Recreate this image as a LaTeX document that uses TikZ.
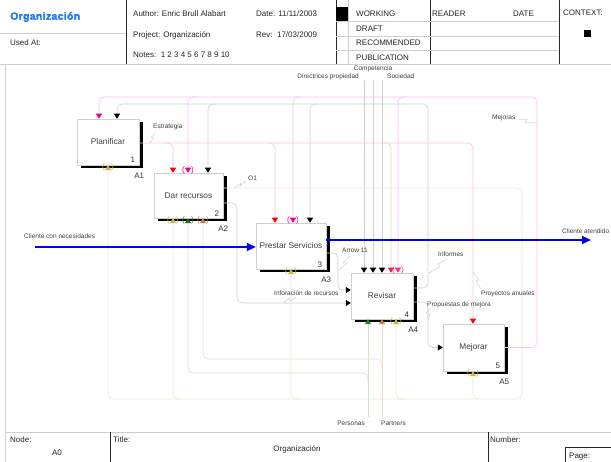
\documentclass[tikz,border=0pt]{standalone}
\usepackage{fontspec}
\setmainfont{Liberation Sans}
\newfontfamily\heavyfont[FakeBold=2,LetterSpace=3]{Liberation Sans Bold}
\usetikzlibrary{arrows.meta,shadows,calc}
\definecolor{lgray}{HTML}{D0D0D0}
\definecolor{lpink}{HTML}{F7C2F7}
\definecolor{lred}{HTML}{F7CACA}
\definecolor{lolive}{HTML}{ECEBD2}
\definecolor{lgreen}{HTML}{CDE6CD}
\definecolor{lbrown}{HTML}{F2DCC8}
\definecolor{olv}{HTML}{C8BE3C}
\definecolor{grn}{HTML}{1E8C1E}
\definecolor{brn}{HTML}{C88040}
\definecolor{orgblue}{HTML}{1E78F0}
\definecolor{dpink}{HTML}{FF2E8C}
\definecolor{dred}{HTML}{FF1E46}
\begin{document}
\begin{tikzpicture}[x=1pt,y=-1pt,
 box/.style={draw=lgray,line width=0.5pt,fill=white,inner sep=1pt,
   font=\fontsize{8.3}{10}\selectfont,text=black!75,
   drop shadow={shadow xshift=3.5pt,shadow yshift=-3.5pt,opacity=1,fill=black}},
 num/.style={font=\fontsize{8}{9}\selectfont,text=black!80,inner sep=0pt},
 lbl/.style={font=\fontsize{6.5}{7.5}\selectfont,text=black!75,inner sep=0pt},
 hdr/.style={font=\fontsize{8}{9.6}\selectfont,text=black!85,inner sep=0pt,anchor=west},
 L/.style={line width=0.6pt,rounded corners=5pt,draw=#1},
 tp/.style={-{Triangle[width=6pt,length=5pt,color=#1]}},
 tun/.style={font=\fontsize{8}{9}\selectfont,text=#1,inner sep=0pt},
 sq/.style={draw=lgray,line width=0.5pt},
 frm/.style={draw=black!85,line width=0.7pt},
 fgray/.style={draw=lgray,line width=0.6pt},
]
\fill[white] (0,0) rectangle (611,462);
\useasboundingbox (0,0) rectangle (611,462);

% ---------- header ----------
\draw[fgray] (0,64) -- (611,64);
\draw[fgray] (5,64) -- (5,462);
\draw[fgray] (0,33) -- (126,33);
\draw[frm] (126,0) -- (126,64);
\draw[frm] (336,0) -- (336,64);
\draw[fgray] (348,0) -- (348,64);
\draw[frm] (430,0) -- (430,64);
\draw[frm] (559,0) -- (559,64);
\draw[fgray] (336,21) -- (559,21);
\draw[fgray] (336,36) -- (559,36);
\draw[fgray] (336,50) -- (559,50);
\fill[black] (336,7) rectangle (348,21);
\fill[black] (584,30) rectangle (591,37);
\node[hdr,font=\fontsize{10.5}{12}\heavyfont,text=orgblue] (hOrg) at (10,17) {Organización};
\node[hdr] (hUsed) at (10,43) {Used At:};
\node[hdr] (hAuth) at (133,14) {Author: Enric Brull Alabart};
\node[hdr] (hDate) at (256,14) {Date: 11/11/2003};
\node[hdr] (hProj) at (133,35) {Project: Organización};
\node[hdr] (hRev) at (256,35) {Rev:\ \ 17/03/2009};
\node[hdr] (hNotes) at (133,55) {Notes:\ \ 1 2 3 4 5 6 7 8 9 10};
\node[hdr] (hW) at (356,14) {WORKING};
\node[hdr] (hD) at (356,29) {DRAFT};
\node[hdr] (hR) at (356,43) {RECOMMENDED};
\node[hdr] (hP) at (356,58) {PUBLICATION};
\node[hdr] (hRd) at (432,14) {READER};
\node[hdr] (hDt) at (513,14) {DATE};
\node[hdr] (hC) at (563,13) {CONTEXT:};

% ---------- footer ----------
\draw[fgray] (5,432) -- (611,432);
\draw[frm] (110,432) -- (110,462);
\draw[frm] (488,432) -- (488,462);
\draw[frm] (565,462) -- (565,447) -- (611,447);
\node[hdr] (fNode) at (10,440) {Node:};
\node[hdr,anchor=center] (fA0) at (57,453) {A0};
\node[hdr] (fTitle) at (113,440) {Title:};
\node[hdr,anchor=center] (fOrg) at (297,449) {Organización};
\node[hdr] (fNum) at (490,440) {Number:};
\node[hdr] (fPage) at (569,457) {Page:};

% ---------- activity boxes ----------
\node[box,minimum width=62pt,minimum height=46pt] (A1) at (108,142) {Planificar};
\node[box,minimum width=69pt,minimum height=45pt] (A2) at (188.5,195.5) {Dar recursos};
\node[box,minimum width=70pt,minimum height=46pt] (A3) at (291,246) {Prestar Servicios};
\node[box,minimum width=62pt,minimum height=46pt] (A4) at (382,296) {Revisar};
\node[box,minimum width=61pt,minimum height=47pt] (A5) at (473.5,347.5) {Mejorar};
\foreach \b/\n in {A1/1,A2/2,A3/3,A4/4,A5/5}{
  \node[num] (n\n) at ($(\b.south east)+(-6.5,-5)$) {\n};
  \node[num] (l\n) at ($(\b.south east)+(0,10.5)$) {\b};
}

% ---------- Mejoras (A5 -> controls) ----------
\draw[L=lpink,tp=magenta] (A5.east) -- (537,347.5) -- (537,97) -- (99,97) -- (99,0 |- A1.north);
\draw[L=lpink,tp=magenta] (196,97) -- (188,97) -- (188,0 |- A2.north);
\draw[L=lpink,tp=magenta] (301,97) -- (293,97) -- (293,0 |- A3.north);
\draw[L=lpink,tp=dpink] (406,97) -- (398,97) -- (398,0 |- A4.north);

% ---------- Informes (A4 -> controls) ----------
\draw[L=lgray,tp=black] (A4.east |- 0,288) -- (428,288) -- (428,104) -- (117,104) -- (117,0 |- A1.north);
\draw[L=lgray,tp=black] (216,104) -- (208,104) -- (208,0 |- A2.north);
\draw[L=lgray,tp=black] (318,104) -- (310,104) -- (310,0 |- A3.north);

% ---------- Estrategia (A1 -> controls) ----------
\draw[L=lred,tp=red] (A1.east |- 0,143) -- (473,143) -- (473,0 |- A5.north);
\draw[L=lred,tp=red] (165,143) -- (173,143) -- (173,0 |- A2.north);
\draw[L=lred,tp=red] (267,143) -- (275,143) -- (275,0 |- A3.north);
\draw[L=lred,tp=dred] (383,143) -- (391,143) -- (391,0 |- A4.north);

% ---------- external controls ----------
\coordinate (cDir) at (364,80);
\coordinate (cCom) at (373,80);
\coordinate (cSoc) at (382,80);
\draw[L=lgray,tp=black] (cDir) -- (cDir |- A4.north);
\draw[L=lgray,tp=black] (cCom) -- (cCom |- A4.north);
\draw[L=lgray,tp=black] (cSoc) -- (cSoc |- A4.north);

% ---------- A3 -> A4, A2 -> A4, A4 -> A5 ----------
\draw[L=lgray,tp=black] (A3.east |- 0,253) -- (338,253) -- (338,290) -- (A4.west |- 0,290);
\draw[L=lgray,tp=black] (A2.east |- 0,203) -- (237,203) -- (237,303) -- (A4.west |- 0,303);
\draw[L=lgray,tp=black] (A4.east |- 0,302) -- (428,302) -- (428,347.5) -- (A5.west);

% ---------- O1 (A2 -> mechanisms) ----------
\draw[L=lolive,tp=olv] (A2.east |- 0,188) -- (522,188) -- (522,399) -- (108,399) -- (108,0 |- A1.south);
\draw[L=lolive,tp=olv] (181,399) -- (173,399) -- (173,0 |- A2.south);
\draw[L=lolive,tp=olv] (299,399) -- (291,399) -- (291,0 |- A3.south);
\draw[L=lolive,tp=olv] (404,399) -- (396,399) -- (396,0 |- A4.south);
\draw[L=lolive,tp=olv] (481,399) -- (473,399) -- (473,0 |- A5.south);

% ---------- Personas / Partners ----------
\coordinate (cPer) at (368,417);
\coordinate (cPar) at (382,417);
\draw[L=lgreen,tp=grn] (cPer) -- (cPer |- A4.south);
\draw[L=lgreen,tp=grn!80!black] (368,385) -- (368,373) -- (188,373) -- (188,0 |- A2.south);
\draw[L=lbrown,tp=brn] (cPar) -- (cPar |- A4.south);
\draw[L=lbrown,tp=brn] (382,370) -- (382,359) -- (203,359) -- (203,0 |- A2.south);

% ---------- tunnel brackets ----------
\node[tun=olv] (u1) at (108,167.5) {(\hspace{6.5pt})};
\node[tun=olv] (u2) at (173,220.5) {(\hspace{6.5pt})};
\node[tun=grn] (u3) at (188,220.5) {(\hspace{6.5pt})};
\node[tun=brn] (u4) at (203,220.5) {(\hspace{6.5pt})};
\node[tun=olv] (u5) at (291,271.5) {(\hspace{6.5pt})};
\node[tun=olv] (u6) at (396,321.5) {(\hspace{6.5pt})};
\node[tun=olv] (u7) at (473,373.5) {(\hspace{6.5pt})};
\node[tun=magenta] (u8) at (188,170.5) {(\hspace{6.5pt})};
\node[tun=magenta] (u9) at (293,220.5) {(\hspace{6.5pt})};
\node[tun=dpink] (u10) at (398,270.5) {(\hspace{6.5pt})};

% ---------- blue flow ----------
\coordinate (cIn) at (35,247);
\coordinate (cOut) at (591,240);
\draw[blue,line width=1.8pt,-{Triangle[width=8pt,length=9pt]}] (cIn) -- (cIn -| A3.west);
\draw[blue,line width=1.8pt,-{Triangle[width=8pt,length=9pt]}] (A3.east |- cOut) -- (cOut);

% ---------- labels ----------
\node[lbl,anchor=west] (tEst) at (153,127) {Estrategia};
\node[lbl,anchor=west] (tO1) at (248,178) {O1};
\node[lbl,anchor=west] (tA11) at (342,250) {Arrow 11};
\node[lbl,anchor=west] (tInf) at (438,254) {Informes};
\node[lbl,anchor=west] (tIR) at (274,293) {Inforación de recursos};
\node[lbl,anchor=west] (tPM) at (427,305) {Propuestas de mejora};
\node[lbl,anchor=west] (tPA) at (481,294) {Proyectos anuales};
\node[lbl,anchor=west] (tMej) at (492,118) {Mejoras};
\node[lbl,anchor=east] (tDir) at (359,76.5) {Directrices propiedad};
\node[lbl] (tCom) at (373,69) {Competencia};
\node[lbl,anchor=west] (tSoc) at (387,76.5) {Sociedad};
\node[lbl,anchor=west] (tCin) at (24,236) {Cliente con necesidades};
\node[lbl,anchor=west] (tCout) at (562,231) {Cliente atendido};
\node[lbl,anchor=east] (tPer) at (365,423) {Personas};
\node[lbl,anchor=west] (tPar) at (381,423) {Partners};

% ---------- squiggle leaders ----------
\draw[sq] (155,133) -- (151,138) -- (154,138) -- (150,143);
\draw[sq] (246,181) -- (240,186) -- (241,183) -- (234,188);
\draw[sq] (350,256) -- (343,263) -- (347,263) -- (339,270);
\draw[sq] (447,259) -- (438,264) -- (440,267) -- (429,273);
\draw[sq] (296,297) -- (290,301) -- (289,298) -- (284,303);
\draw[sq] (430,308) -- (426,313) -- (430,314) -- (428,320);
\draw[sq] (473,272) -- (479,280) -- (476,281) -- (481,289);
\draw[sq] (519,120) -- (527,119) -- (525,123) -- (537,123);
\end{tikzpicture}
\end{document}
